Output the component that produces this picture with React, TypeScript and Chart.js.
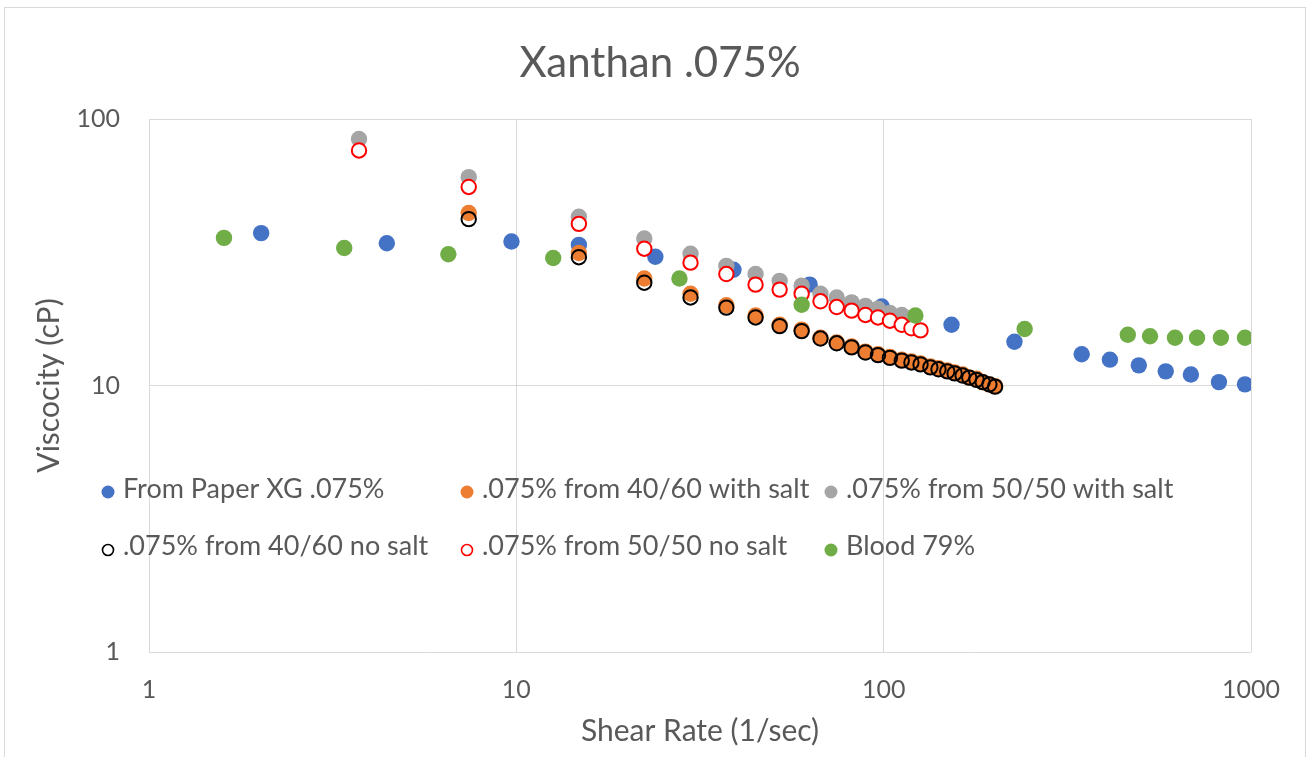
import React, { useEffect, useRef } from 'react';
import { Chart, registerables } from 'chart.js';

Chart.register(...registerables);

// ---------- data ----------
const chartTitle = 'Xanthan .075%';
const xAxisTitle = 'Shear Rate (1/sec)';
const yAxisTitle = 'Viscocity (cP)';

const xTicks = [1, 10, 100, 1000];
const yTicks = [1, 10, 100];

const seriesNames = [
  'From Paper XG .075%',
  '.075% from 40/60 with salt',
  '.075% from 50/50 with salt',
  '.075% from 40/60 no salt',
  '.075% from 50/50 no salt',
  'Blood 79%',
];

// From Paper XG .075%
const paperShear = [2.02, 4.44, 9.7, 14.8, 23.9, 39, 62.9, 98.8, 153, 227, 346, 413, 495, 586, 686, 818, 963];
const paperVisc = [37.3, 34.2, 34.7, 33.7, 30.4, 27.2, 23.9, 19.8, 16.9, 14.6, 13.1, 12.5, 11.9, 11.3, 11.0, 10.3, 10.1];

// 40/60 mixes (with salt / no salt)
const shear4060 = [7.42, 14.8, 22.3, 29.8, 37.3, 44.8, 52.1, 59.8, 67.3, 74.5, 81.8, 89.2, 96.5, 104, 112, 119, 126, 134, 141, 149, 156, 164, 171, 179, 186, 194, 201];
const visc4060Salt = [44.4, 31.4, 25.2, 22.1, 20.0, 18.3, 16.9, 16.2, 15.1, 14.5, 14.0, 13.4, 13.1, 12.8, 12.5, 12.3, 12.1, 11.8, 11.6, 11.4, 11.2, 11.0, 10.7, 10.6, 10.3, 10.1, 9.95];
const visc4060NoSalt = [42.1, 30.3, 24.3, 21.4, 19.6, 18.0, 16.7, 16.0, 15.0, 14.4, 13.9, 13.3, 13.0, 12.7, 12.4, 12.2, 12.0, 11.7, 11.5, 11.3, 11.1, 10.9, 10.7, 10.5, 10.3, 10.1, 9.9];

// 50/50 mixes (with salt / no salt)
const shear5050 = [3.73, 7.42, 14.8, 22.3, 29.8, 37.3, 44.8, 52.1, 59.8, 67.3, 74.5, 81.8, 89.2, 96.5, 104, 112, 119, 126];
const visc5050Salt = [84.1, 60.5, 43.0, 35.6, 31.2, 28.1, 26.2, 24.7, 23.7, 22.1, 21.4, 20.5, 19.9, 19.4, 18.7, 18.4, 17.9];
const visc5050NoSalt = [76.2, 55.6, 40.4, 32.6, 28.9, 26.2, 23.9, 22.9, 22.1, 20.7, 19.7, 19.1, 18.4, 18.0, 17.5, 16.9, 16.4, 16.1];

// Blood 79%
const bloodShear = [1.6, 3.4, 6.53, 12.6, 27.8, 59.8, 122, 242, 462, 531, 621, 713, 828, 963];
const bloodVisc = [35.8, 32.8, 31.1, 30.1, 25.2, 20.1, 18.3, 16.3, 15.5, 15.3, 15.1, 15.1, 15.1, 15.1];

// ---------- styles ----------
const FONT = 'Lato';
const TEXT = '#595959';
const GRID = '#d9d9d9';

type Style = { fill: string; stroke: string; open: boolean };
const styles: Style[] = [
  { fill: '#4472C4', stroke: '#4472C4', open: false },
  { fill: '#ED7D31', stroke: '#ED7D31', open: false },
  { fill: '#A5A5A5', stroke: '#A5A5A5', open: false },
  { fill: 'rgba(0,0,0,0)', stroke: '#000000', open: true },
  { fill: '#FFFFFF', stroke: '#FF0000', open: true },
  { fill: '#70AD47', stroke: '#70AD47', open: false },
];

// legend layout (column x of marker, row baseline)
const legendCols = [108, 467, 831];
const legendRows = [{ marker: 492, base: 498 }, { marker: 550, base: 555 }];

const toPoints = (xs: number[], ys: number[]) => ys.map((y, i) => ({ x: xs[i], y }));

const backgroundPlugin = {
  id: 'bgBorder',
  beforeDraw(chart: any) {
    const { ctx, width, height } = chart;
    ctx.save();
    ctx.fillStyle = '#ffffff';
    ctx.fillRect(0, 0, width, height);
    ctx.strokeStyle = GRID;
    ctx.lineWidth = 1;
    ctx.strokeRect(4.5, 7.5, 1301, height + 20);
    ctx.restore();
  },
};

const titlePlugin = {
  id: 'centeredTitle',
  afterDraw(chart: any) {
    const ctx = chart.ctx;
    ctx.save();
    ctx.font = `42px ${FONT}`;
    ctx.fillStyle = TEXT;
    ctx.textAlign = 'center';
    ctx.textBaseline = 'alphabetic';
    ctx.fillText(chartTitle, 660, 77);
    ctx.restore();
  },
};

const legendPlugin = {
  id: 'insideLegend',
  afterDatasetsDraw(chart: any) {
    const ctx = chart.ctx;
    ctx.save();
    ctx.font = `27px ${FONT}`;
    ctx.textBaseline = 'alphabetic';
    ctx.textAlign = 'left';
    seriesNames.forEach((name, i) => {
      const col = legendCols[i % 3];
      const row = legendRows[Math.floor(i / 3)];
      const st = styles[i];
      ctx.beginPath();
      if (st.open) {
        ctx.arc(col, row.marker, 5.5, 0, Math.PI * 2);
        ctx.fillStyle = st.fill;
        ctx.fill();
        ctx.lineWidth = 1.6;
        ctx.strokeStyle = st.stroke;
        ctx.stroke();
      } else {
        ctx.arc(col, row.marker, 6.5, 0, Math.PI * 2);
        ctx.fillStyle = st.fill;
        ctx.fill();
      }
      ctx.fillStyle = TEXT;
      ctx.fillText(name, col + 15, row.base);
    });
    ctx.restore();
  },
};

export default function App() {
  const ref = useRef<HTMLCanvasElement>(null);

  useEffect(() => {
    document.body.style.margin = '0';
    const canvas = ref.current;
    if (!canvas) return;

    const series = [
      toPoints(paperShear, paperVisc),
      toPoints(shear4060, visc4060Salt),
      toPoints(shear5050, visc5050Salt),
      toPoints(shear4060, visc4060NoSalt),
      toPoints(shear5050, visc5050NoSalt),
      toPoints(bloodShear, bloodVisc),
    ];
    const orders = [6, 5, 4, 3, 2, 1];

    const chart = new Chart(canvas, {
      type: 'scatter',
      data: {
        datasets: series.map((data, i) => ({
          label: seriesNames[i],
          data,
          order: orders[i],
          showLine: false,
          pointRadius: styles[i].open ? 7.2 : 8.2,
          pointHoverRadius: styles[i].open ? 7.2 : 8.2,
          pointBackgroundColor: styles[i].fill,
          pointBorderColor: styles[i].stroke,
          pointBorderWidth: styles[i].open ? 2 : 0,
          backgroundColor: styles[i].fill,
          borderColor: styles[i].stroke,
        })),
      },
      plugins: [backgroundPlugin, legendPlugin, titlePlugin],
      options: {
        responsive: false,
        animation: false,
        events: [],
        layout: { padding: { left: 0, right: 62, top: 119, bottom: 0 } },
        plugins: {
          legend: { display: false },
          tooltip: { enabled: false },
          title: { display: false },
        },
        scales: {
          x: {
            type: 'logarithmic',
            min: 1,
            max: 1000,
            afterBuildTicks: (scale: any) => {
              scale.ticks = xTicks.map((v) => ({ value: v }));
            },
            afterFit: (scale: any) => {
              scale.height = 105;
            },
            grid: { color: GRID, lineWidth: 1, drawTicks: false },
            border: { display: false },
            ticks: {
              color: TEXT,
              font: { family: FONT, size: 25 },
              padding: 23,
              maxRotation: 0,
              autoSkip: false,
              callback: (v: any) => String(v),
            },
            title: {
              display: true,
              text: xAxisTitle,
              color: TEXT,
              font: { family: FONT, size: 30 },
              padding: { top: 0, bottom: 8 },
            },
          },
          y: {
            type: 'logarithmic',
            min: 1,
            max: 100,
            afterBuildTicks: (scale: any) => {
              scale.ticks = yTicks.map((v) => ({ value: v }));
            },
            afterFit: (scale: any) => {
              scale.width = 149;
            },
            grid: { color: GRID, lineWidth: 1, drawTicks: false },
            border: { display: false },
            ticks: {
              color: TEXT,
              font: { family: FONT, size: 25 },
              padding: 29,
              autoSkip: false,
              callback: (v: any) => String(v),
            },
            title: {
              display: true,
              text: yAxisTitle,
              color: TEXT,
              font: { family: FONT, size: 30 },
              padding: { top: 31, bottom: 0 },
            },
          },
        },
      },
    });

    return () => chart.destroy();
  }, []);

  return (
    <div style={{ width: 1313, height: 757, position: 'relative', overflow: 'hidden' }}>
      <canvas ref={ref} width={1313} height={757} style={{ display: 'block', width: 1313, height: 757 }} />
    </div>
  );
}
